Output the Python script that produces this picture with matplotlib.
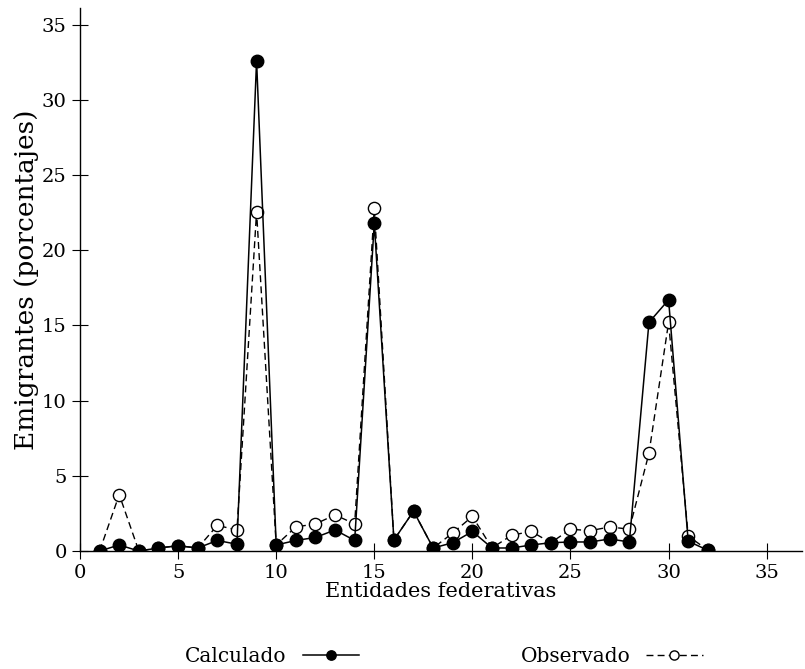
import matplotlib
matplotlib.use("Agg")
import matplotlib.pyplot as plt

# Entidades federativas 1..32
entidades = list(range(1, 33))

calculado = [0.0, 0.4, 0.0, 0.2, 0.35, 0.2, 0.7, 0.45, 32.6, 0.4,
             0.7, 0.9, 1.4, 0.7, 21.8, 0.73, 2.65, 0.2, 0.55, 1.3,
             0.2, 0.2, 0.4, 0.55, 0.6, 0.6, 0.8, 0.6, 15.2, 16.7,
             0.65, 0.05]

observado = [0.0, 3.75, 0.0, 0.2, 0.35, 0.2, 1.7, 1.4, 22.55, 0.4,
             1.6, 1.8, 2.4, 1.8, 22.8, 0.73, 2.65, 0.2, 1.2, 2.3,
             0.2, 1.05, 1.3, 0.55, 1.45, 1.35, 1.6, 1.45, 6.5, 15.2,
             1.0, 0.05]

plt.rcParams['font.family'] = ['DejaVu Serif']
plt.rcParams['font.size'] = 14

fig = plt.figure(figsize=(8.05, 6.69), dpi=100)
ax = fig.add_axes([80 / 805, 1 - 551 / 669, 722 / 805, 543 / 669])

ax.plot(entidades, calculado, color='black', linewidth=1.1, marker='o',
        markersize=9, markerfacecolor='black', markeredgecolor='black',
        label='Calculado', zorder=3)
ax.plot(entidades, observado, color='black', linewidth=1.0, linestyle=(0, (5, 3)),
        marker='o', markersize=8.8, markerfacecolor='white', markeredgecolor='black',
        markeredgewidth=1.0, label='Observado', zorder=2)

ax.set_xlim(0, 36.8)
ax.set_ylim(0, 36.1)
ax.set_xticks(range(0, 40, 5))
ax.set_yticks(range(0, 40, 5))
ax.spines['top'].set_visible(False)
ax.spines['right'].set_visible(False)
ax.tick_params(direction='inout', length=12, width=0.8)
ax.set_xlabel('Entidades federativas', fontsize=15, labelpad=0)
ax.set_ylabel('Emigrantes (porcentajes)', fontsize=19, labelpad=2)
for s in ax.spines.values():
    s.set_linewidth(1.0)

fig.legend(loc='center', bbox_to_anchor=(444 / 805, 1 - 657 / 669), ncol=2,
           frameon=False, markerfirst=False, handlelength=2.8, fontsize=14.5,
           columnspacing=8, markerscale=0.75)

fig.savefig('out.png', dpi=100)
